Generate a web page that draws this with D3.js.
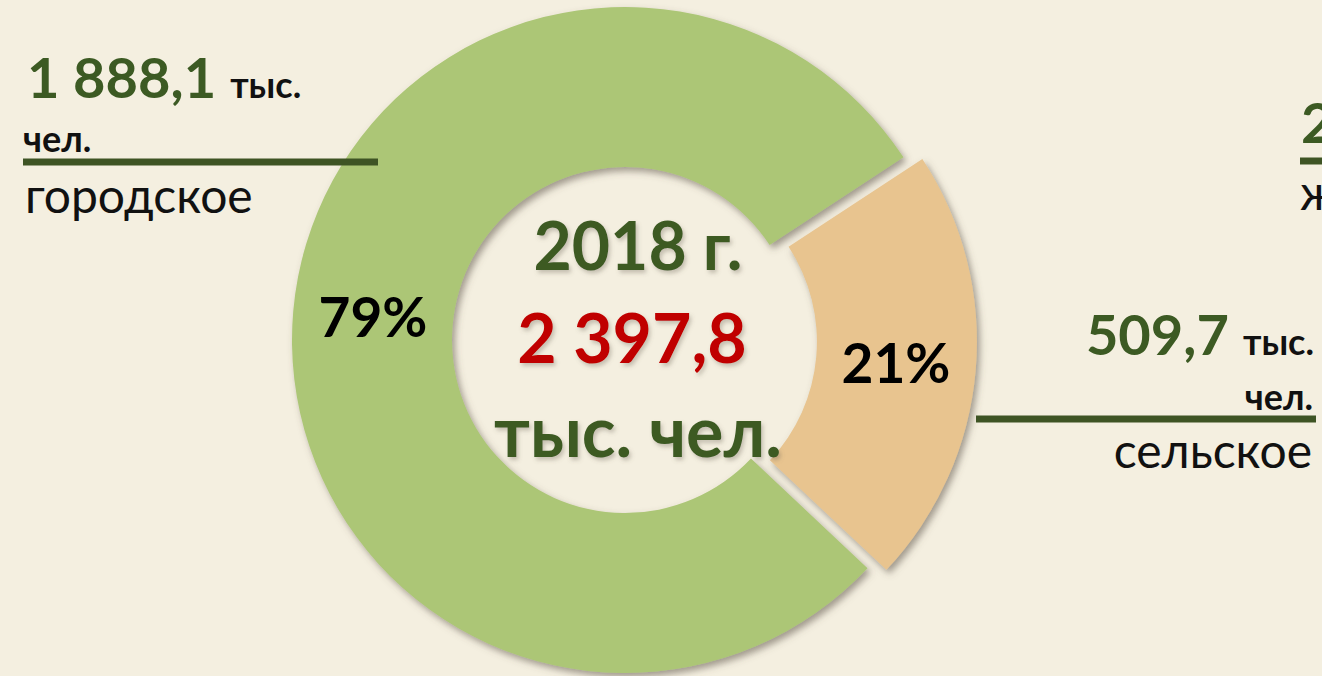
<!DOCTYPE html>
<html>
<head>
<meta charset="utf-8">
<script src="https://cdn.jsdelivr.net/npm/d3@7"></script>
<style>
  body { margin: 0; background: #F4EFE0; overflow: hidden; }
  svg text { font-family: Lato, "Open Sans", sans-serif; }
</style>
</head>
<body>
<div id="chart"></div>
<script>
// Data (тыс. чел.)
var year = 2018;
var categories = ["городское", "сельское"];
var population = [1888.1, 509.7];
var unitShort = ["тыс.", "чел."];

var svg = d3.select("#chart")
            .append("svg")
            .attr("width", 1322)
            .attr("height", 676);

var ru = d3.formatLocale({decimal: ",", thousands: "\u00a0", grouping: [3], currency: ["", ""]});
var fmtNum = ru.format(",.1f");
var fmtPct = d3.format(".0%");
var total = d3.sum(population);

var green = "#3C5A23";
var cx = 625, cy = 340, rOut = 333, rIn = 173;
var explode = [0, 19];

var color = d3.scaleOrdinal()
              .domain(categories)
              .range(["#ACC676", "#E8C48F"]);

var data = categories.map(function(c, i) { return {name: c, value: population[i], i: i}; });

// rural slice is centred a bit below 3 o'clock
var midRural = 95 * Math.PI / 180;
var start = midRural + (population[1] / total) * Math.PI;

var pie = d3.pie()
            .sort(null)
            .value(function(d) { return d.value; })
            .startAngle(start)
            .endAngle(start + 2 * Math.PI);

var arc = d3.arc().innerRadius(rIn).outerRadius(rOut);
var labelArc = d3.arc().innerRadius(253).outerRadius(253);

// shadows
var defs = svg.append("defs");
var f = defs.append("filter").attr("id", "shadow")
  .attr("x", "-10%").attr("y", "-10%").attr("width", "130%").attr("height", "130%");
f.append("feDropShadow").attr("dx", 3).attr("dy", 4).attr("stdDeviation", 3.5)
  .attr("flood-color", "#5b5347").attr("flood-opacity", 0.55);

var ft = defs.append("filter").attr("id", "tshadow")
  .attr("x", "-10%").attr("y", "-20%").attr("width", "130%").attr("height", "150%");
ft.append("feDropShadow").attr("dx", 2).attr("dy", 3).attr("stdDeviation", 2)
  .attr("flood-color", "#6b6256").attr("flood-opacity", 0.35);

function offset(d) {
  var a = (d.startAngle + d.endAngle) / 2;
  var o = explode[d.data.i];
  return [o * Math.sin(a), -o * Math.cos(a)];
}

var slices = svg.append("g")
  .attr("transform", "translate(" + cx + "," + cy + ")")
  .selectAll("g")
  .data(pie(data))
  .enter().append("g")
  .attr("transform", function(d) { var o = offset(d); return "translate(" + o[0] + "," + o[1] + ")"; });

slices.append("path")
  .attr("d", arc)
  .attr("fill", function(d) { return color(d.data.name); })
  .attr("filter", "url(#shadow)");

slices.append("text")
  .attr("transform", function(d) { return "translate(" + labelArc.centroid(d) + ")"; })
  .attr("text-anchor", "middle")
  .attr("dy", "0.35em")
  .style("font-size", "55px")
  .style("font-weight", "bold")
  .attr("fill", "#000")
  .text(function(d) { return fmtPct(d.data.value / total); });

// centre text
var centre = svg.append("g").attr("filter", "url(#tshadow)").attr("text-anchor", "middle");
centre.append("text").attr("x", 638).attr("y", 270)
  .style("font-size", "66px").style("font-weight", "bold").attr("fill", green)
  .text(year + " г.");
centre.append("text").attr("x", 632).attr("y", 363)
  .style("font-size", "68px").style("font-weight", "bold").attr("fill", "#C00000")
  .text(fmtNum(total));
centre.append("text").attr("x", 638).attr("y", 457)
  .style("font-size", "70px").style("font-weight", "bold").attr("fill", green)
  .text(unitShort.join(" "));

// outside labels with leader lines
var leader = "#3E5424";

// urban (left)
var t1 = svg.append("text").attr("x", 27).attr("y", 98).style("font-weight", "bold");
t1.append("tspan").style("font-size", "56px").attr("fill", green).text(fmtNum(population[0]));
t1.append("tspan").attr("dx", 14).style("font-size", "36px").attr("fill", "#111").text(unitShort[0]);
svg.append("text").attr("x", 23).attr("y", 152)
  .style("font-size", "36px").style("font-weight", "bold").attr("fill", "#111").text(unitShort[1]);
svg.append("line").attr("x1", 23).attr("x2", 378).attr("y1", 162).attr("y2", 162)
  .attr("stroke", leader).attr("stroke-width", 7);
svg.append("text").attr("x", 25).attr("y", 213)
  .style("font-size", "48px").attr("fill", "#111").text(categories[0]);

// rural (right)
var t2 = svg.append("text").attr("x", 1314).attr("y", 355)
  .attr("text-anchor", "end").style("font-weight", "bold");
t2.append("tspan").style("font-size", "56px").attr("fill", green).text(fmtNum(population[1]));
t2.append("tspan").attr("dx", 14).style("font-size", "36px").attr("fill", "#111").text(unitShort[0]);
svg.append("text").attr("x", 1313).attr("y", 410).attr("text-anchor", "end")
  .style("font-size", "36px").style("font-weight", "bold").attr("fill", "#111").text(unitShort[1]);
svg.append("line").attr("x1", 976).attr("x2", 1316).attr("y1", 419).attr("y2", 419)
  .attr("stroke", leader).attr("stroke-width", 7);
svg.append("text").attr("x", 1312).attr("y", 468).attr("text-anchor", "end")
  .style("font-size", "48px").attr("fill", "#111").text(categories[1]);

// label of the next chart, cut by the right edge
svg.append("text").attr("x", 1301).attr("y", 143)
  .style("font-size", "56px").style("font-weight", "bold").attr("fill", green).text("2");
svg.append("line").attr("x1", 1300).attr("x2", 1322).attr("y1", 161).attr("y2", 161)
  .attr("stroke", leader).attr("stroke-width", 7);
svg.append("text").attr("x", 1300).attr("y", 210)
  .style("font-size", "48px").attr("fill", "#111").text("ж");
</script>
</body>
</html>
